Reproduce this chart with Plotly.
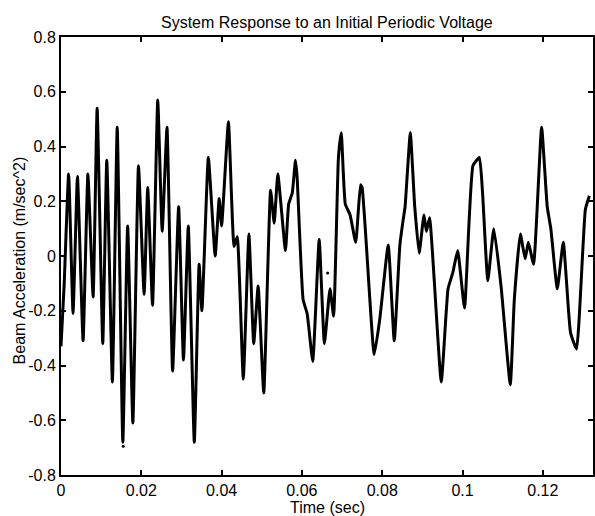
import plotly.graph_objects as go

# Data
time_s = [0.0000, 0.0008, 0.0019, 0.0030, 0.0041, 0.0055, 0.0067, 0.0080, 0.0090, 0.0104,
          0.0114, 0.0128, 0.0140, 0.0154, 0.0166, 0.0179, 0.0193, 0.0207, 0.0216, 0.0228,
          0.0241, 0.0252, 0.0264, 0.0278, 0.0293, 0.0305, 0.0317, 0.0332, 0.0344, 0.0351,
          0.0367, 0.0384, 0.0394, 0.0400, 0.0417, 0.0431, 0.0439, 0.0454, 0.0468, 0.0480,
          0.0491, 0.0505, 0.0522, 0.0531, 0.0540, 0.0559, 0.0567, 0.0576, 0.0584, 0.0588,
          0.0603, 0.0613, 0.0627, 0.0643, 0.0656, 0.0670, 0.0679, 0.0691, 0.0698, 0.0708,
          0.0720, 0.0734, 0.0746, 0.0750, 0.0780, 0.0794, 0.0815, 0.0830, 0.0844, 0.0852,
          0.0857, 0.0870, 0.0881, 0.0892, 0.0904, 0.0910, 0.0918, 0.0947, 0.0964, 0.0976,
          0.0988, 0.1005, 0.1026, 0.1042, 0.1050, 0.1063, 0.1078, 0.1096, 0.1119, 0.1129,
          0.1144, 0.1156, 0.1164, 0.1177, 0.1197, 0.1211, 0.1220, 0.1236, 0.1251, 0.1269,
          0.1284, 0.1306, 0.1316]
accel = [-0.33, -0.10, 0.30, -0.21, 0.29, -0.31, 0.30, -0.15, 0.54, -0.32,
         0.35, -0.46, 0.47, -0.68, 0.11, -0.61, 0.33, -0.14, 0.25, -0.18,
         0.57, 0.09, 0.47, -0.42, 0.18, -0.38, 0.11, -0.68, -0.03, -0.20,
         0.36, 0.00, 0.21, 0.11, 0.49, 0.035, 0.07, -0.45, 0.08, -0.32,
         -0.11, -0.50, 0.24, 0.12, 0.30, 0.02, 0.19, 0.23, 0.35, 0.29,
         -0.16, -0.21, -0.385, 0.06, -0.32, -0.12, -0.22, 0.36, 0.45, 0.19,
         0.15, 0.05, 0.26, 0.25, -0.36, -0.23, 0.04, -0.31, 0.04, 0.13,
         0.18, 0.45, 0.18, 0.01, 0.15, 0.09, 0.14, -0.46, -0.12, -0.06,
         0.02, -0.19, 0.33, 0.36, 0.23, -0.09, 0.10, -0.11, -0.47, -0.16,
         0.08, -0.01, 0.05, -0.03, 0.47, 0.18, 0.10, -0.12, 0.05, -0.28,
         -0.34, 0.17, 0.22]

stray_t = [0.0155, 0.0664]
stray_y = [-0.695, -0.062]

x_ticks = [0, 0.02, 0.04, 0.06, 0.08, 0.1, 0.12]
x_labels = ["0", "0.02", "0.04", "0.06", "0.08", "0.1", "0.12"]
y_ticks = [-0.8, -0.6, -0.4, -0.2, 0, 0.2, 0.4, 0.6, 0.8]
y_labels = ["-0.8", "-0.6", "-0.4", "-0.2", "0", "0.2", "0.4", "0.6", "0.8"]

FONT = "Liberation Sans, Arial, sans-serif"

fig = go.Figure()
fig.add_trace(go.Scatter(x=time_s, y=accel, mode="lines",
                         line=dict(color="black", width=3, shape="spline", smoothing=0.4),
                         showlegend=False, hoverinfo="skip"))
fig.add_trace(go.Scatter(x=stray_t, y=stray_y, mode="markers",
                         marker=dict(color="black", size=3),
                         showlegend=False, hoverinfo="skip"))

axis_common = dict(showgrid=False, zeroline=False, showline=True, linecolor="black",
                   linewidth=2, mirror="ticks", ticks="inside", ticklen=5,
                   tickwidth=1.5, tickcolor="black",
                   tickfont=dict(family=FONT, size=16, color="black"))

fig.update_xaxes(range=[0, 0.1325], tickvals=x_ticks, ticktext=x_labels, **axis_common)
fig.update_yaxes(range=[-0.8, 0.8], tickvals=y_ticks, ticktext=y_labels, **axis_common)

fig.update_layout(
    width=595, height=516,
    margin=dict(l=61, r=0, t=37, b=41),
    plot_bgcolor="white", paper_bgcolor="white",
    font=dict(family=FONT, color="black"),
    annotations=[
        dict(text="System Response to an Initial Periodic Voltage", xref="paper", yref="paper",
             x=0.5, y=1.0, yshift=15, xanchor="center", yanchor="middle",
             showarrow=False, font=dict(family=FONT, size=16, color="black")),
        dict(text="Time (sec)", xref="paper", yref="paper",
             x=0.5, y=0, yshift=-32, xanchor="center", yanchor="middle",
             showarrow=False, font=dict(family=FONT, size=16, color="black")),
        dict(text="Beam Acceleration (m/sec^2)", xref="paper", yref="paper",
             x=0, xshift=-42, y=0.49, xanchor="center", yanchor="middle", textangle=-90,
             showarrow=False, font=dict(family=FONT, size=16, color="black")),
    ],
)

fig.write_html("out.html")
